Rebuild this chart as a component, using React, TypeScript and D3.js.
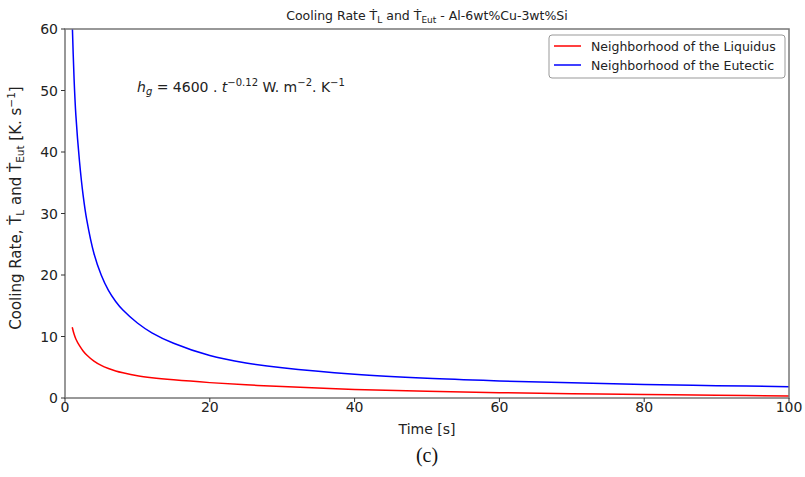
import React from "react";
import * as d3 from "d3";

const times = [1, 1.25, 1.5, 2, 2.5, 3, 4, 5, 6, 7, 8, 10, 12, 15, 20, 25, 30, 40, 50, 60, 70, 80, 90, 100];
const eutectic = [61, 52, 46, 38.5, 33, 29, 23.5, 20, 17.5, 15.7, 14.3, 12.2, 10.6, 8.9, 6.9, 5.7, 4.9, 3.85, 3.2, 2.78, 2.46, 2.2, 2.0, 1.84];
const liquidus = [11.5, 10.4, 9.6, 8.5, 7.65, 7.0, 6.0, 5.3, 4.8, 4.4, 4.1, 3.62, 3.3, 2.95, 2.5, 2.15, 1.85, 1.38, 1.08, 0.86, 0.7, 0.56, 0.44, 0.34];
const xTicks = [0, 20, 40, 60, 80, 100];
const yTicks = [0, 10, 20, 30, 40, 50, 60];
const seriesNames = ["Neighborhood of the Liquidus", "Neighborhood of the Eutectic"];
const seriesColors = ["#ff0000", "#0000ff"];

export default function App() {
  const W = 805, H = 477;
  const left = 65, right = 789, top = 29, bottom = 398;
  const x = d3.scaleLinear().domain([0, 100]).range([left, right]);
  const y = d3.scaleLinear().domain([0, 60]).range([bottom, top]);
  const line = d3
    .line<number>()
    .x((_, i) => x(times[i]))
    .y((d) => y(d))
    .curve(d3.curveCatmullRom.alpha(0.5));
  const font = "DejaVu Sans, sans-serif";
  const axisColor = "#777";
  return (
    <svg width={W} height={H} style={{ position: "absolute", left: 0, top: 0, background: "#fff" }} fontFamily={font}>
      <defs>
        <clipPath id="plotclip">
          <rect x={left} y={top} width={right - left} height={bottom - top} />
        </clipPath>
      </defs>
      <rect x={0} y={0} width={W} height={H} fill="#fff" />
      {/* title */}
      <text x={(left + right) / 2} y={20} textAnchor="middle" fontSize={12.5} fill="#222">
        Cooling Rate Ṫ<tspan fontSize={9} dy={3}>L</tspan>
        <tspan dy={-3}> and Ṫ</tspan>
        <tspan fontSize={9} dy={3}>Eut</tspan>
        <tspan dy={-3}> - Al-6wt%Cu-3wt%Si</tspan>
      </text>
      {/* curves */}
      <g clipPath="url(#plotclip)">
        <path d={line(liquidus) || ""} fill="none" stroke={seriesColors[0]} strokeWidth={1.5} />
        <path d={line(eutectic) || ""} fill="none" stroke={seriesColors[1]} strokeWidth={1.5} />
      </g>
      {/* frame */}
      <rect x={left} y={top} width={right - left} height={bottom - top} fill="none" stroke={axisColor} strokeWidth={1.5} />
      {/* x ticks */}
      {xTicks.map((t) => (
        <g key={"x" + t}>
          <line x1={x(t)} x2={x(t)} y1={bottom} y2={bottom + 4} stroke="#333" strokeWidth={1} />
          <text x={x(t)} y={bottom + 14} textAnchor="middle" fontSize={14} fill="#222">
            {t}
          </text>
        </g>
      ))}
      {/* y ticks */}
      {yTicks.map((t) => (
        <g key={"y" + t}>
          <line x1={left - 4} x2={left} y1={y(t)} y2={y(t)} stroke="#333" strokeWidth={1} />
          <text x={left - 7} y={y(t) + 5} textAnchor="end" fontSize={14} fill="#222">
            {t}
          </text>
        </g>
      ))}
      {/* x label */}
      <text x={(left + right) / 2} y={434} textAnchor="middle" fontSize={14} fill="#222">
        Time [s]
      </text>
      {/* y label */}
      <text transform={`translate(21, 208) rotate(-90)`} textAnchor="middle" fontSize={15} fill="#222">
        Cooling Rate, Ṫ<tspan fontSize={10.5} dy={3}>L</tspan>
        <tspan dy={-3}> and Ṫ</tspan>
        <tspan fontSize={10.5} dy={3}>Eut</tspan>
        <tspan dy={-3}> [K. s</tspan>
        <tspan fontSize={10.5} dy={-6}>−1</tspan>
        <tspan dy={6}>]</tspan>
      </text>
      {/* annotation */}
      <text x={137} y={92} fontSize={14} fill="#222">
        <tspan fontStyle="italic">h</tspan>
        <tspan fontSize={10} fontStyle="italic" dy={3}>g</tspan>
        <tspan dy={-3}> = 4600 . </tspan>
        <tspan fontStyle="italic">t</tspan>
        <tspan fontSize={10} dy={-6}>−0.12</tspan>
        <tspan dy={6}> W. m</tspan>
        <tspan fontSize={10} dy={-6}>−2</tspan>
        <tspan dy={6}>. K</tspan>
        <tspan fontSize={10} dy={-6}>−1</tspan>
      </text>
      {/* legend */}
      <rect x={549} y={35} width={236} height={43} rx={3} fill="#fff" stroke="#999" strokeWidth={1} />
      {seriesNames.map((n, i) => (
        <g key={n}>
          <line x1={554} x2={581} y1={46 + i * 19} y2={46 + i * 19} stroke={seriesColors[i]} strokeWidth={1.5} />
          <text x={591} y={51 + i * 19} fontSize={12.5} fill="#222">
            {n}
          </text>
        </g>
      ))}
      {/* caption */}
      <text x={(left + right) / 2} y={462} textAnchor="middle" fontSize={20} fontFamily="Liberation Serif, Times New Roman, serif" fill="#111">
        (c)
      </text>
    </svg>
  );
}
